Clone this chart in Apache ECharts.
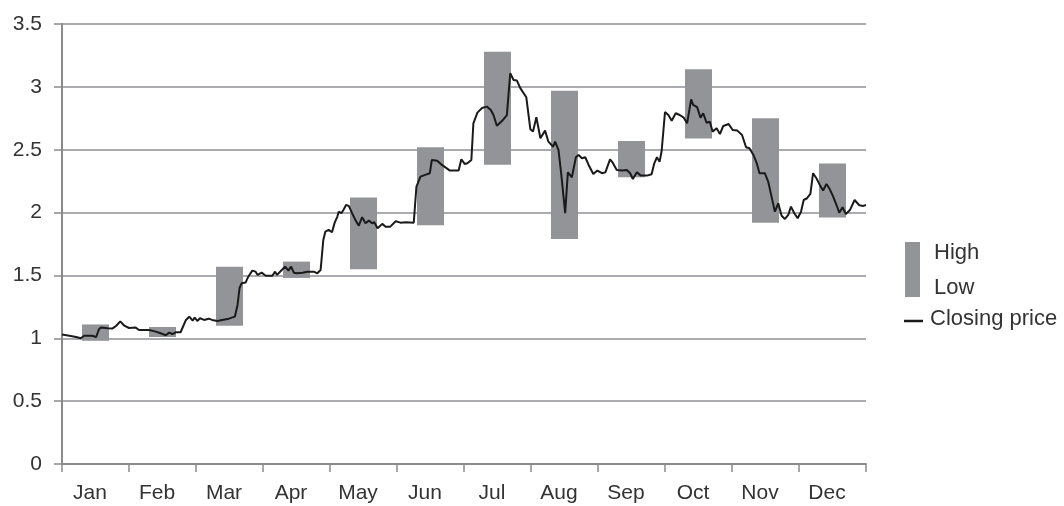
<!DOCTYPE html>
<html>
<head>
<meta charset="utf-8">
<script src="https://cdn.jsdelivr.net/npm/echarts@6/dist/echarts.min.js"></script>
<style>
  html, body { margin: 0; padding: 0; background: #fff; }
  #chart { width: 1064px; height: 506px; }
</style>
</head>
<body>
<div id="chart"></div>
<script>
const months = ["Jan", "Feb", "Mar", "Apr", "May", "Jun", "Jul", "Aug", "Sep", "Oct", "Nov", "Dec"];
const highs = [1.11, 1.09, 1.57, 1.61, 2.12, 2.52, 3.28, 2.97, 2.57, 3.14, 2.75, 2.39];
const lows = [0.98, 1.01, 1.10, 1.48, 1.55, 1.90, 2.38, 1.79, 2.28, 2.59, 1.92, 1.96];
const yTicks = [0, 0.5, 1, 1.5, 2, 2.5, 3, 3.5];

// closing price: [position in months from start of year, price]
const closing = [
  [0.00, 1.03], [0.11, 1.02], [0.21, 1.01], [0.28, 1.00], [0.33, 1.02], [0.45, 1.02],
  [0.51, 1.01], [0.55, 1.07], [0.58, 1.085], [0.68, 1.08], [0.75, 1.077], [0.81, 1.10],
  [0.87, 1.135], [0.93, 1.10], [1.00, 1.082], [1.10, 1.085], [1.15, 1.066], [1.30, 1.066],
  [1.40, 1.053], [1.47, 1.04], [1.55, 1.024], [1.60, 1.045], [1.65, 1.034], [1.70, 1.048],
  [1.77, 1.048], [1.85, 1.146], [1.90, 1.172], [1.95, 1.14], [1.98, 1.164], [2.02, 1.138],
  [2.06, 1.159], [2.12, 1.146], [2.19, 1.156], [2.24, 1.146], [2.32, 1.138], [2.39, 1.146],
  [2.49, 1.156], [2.58, 1.172], [2.62, 1.265], [2.65, 1.40], [2.68, 1.437], [2.74, 1.443],
  [2.78, 1.49], [2.84, 1.538], [2.89, 1.53], [2.92, 1.504], [2.98, 1.522], [3.04, 1.498],
  [3.14, 1.498], [3.18, 1.53], [3.21, 1.504], [3.28, 1.543], [3.33, 1.57], [3.38, 1.538],
  [3.42, 1.57], [3.46, 1.522], [3.51, 1.517], [3.59, 1.522], [3.66, 1.53], [3.76, 1.53],
  [3.81, 1.517], [3.86, 1.543], [3.90, 1.782], [3.93, 1.848], [3.98, 1.862], [4.03, 1.843],
  [4.07, 1.92], [4.11, 1.968], [4.13, 2.007], [4.17, 1.995], [4.20, 2.02], [4.24, 2.06],
  [4.28, 2.053], [4.33, 1.995], [4.38, 1.94], [4.43, 1.896], [4.48, 1.963], [4.53, 1.915],
  [4.58, 1.936], [4.63, 1.915], [4.66, 1.923], [4.71, 1.875], [4.78, 1.91], [4.83, 1.888],
  [4.90, 1.888], [4.98, 1.931], [5.05, 1.92], [5.13, 1.923], [5.25, 1.92], [5.29, 2.206],
  [5.35, 2.286], [5.42, 2.30], [5.49, 2.313], [5.52, 2.418], [5.60, 2.413], [5.67, 2.379],
  [5.79, 2.334], [5.92, 2.334], [5.96, 2.424], [6.01, 2.387], [6.05, 2.392], [6.11, 2.418],
  [6.14, 2.71], [6.20, 2.795], [6.27, 2.832], [6.34, 2.843], [6.40, 2.816], [6.44, 2.776],
  [6.49, 2.69], [6.57, 2.73], [6.64, 2.776], [6.69, 3.108], [6.74, 3.055], [6.79, 3.05],
  [6.84, 2.99], [6.93, 2.917], [6.99, 2.663], [7.03, 2.644], [7.08, 2.758], [7.14, 2.591],
  [7.21, 2.652], [7.26, 2.564], [7.33, 2.524], [7.36, 2.564], [7.41, 2.498], [7.45, 2.313],
  [7.51, 1.995], [7.55, 2.32], [7.61, 2.281], [7.67, 2.44], [7.71, 2.458], [7.76, 2.432],
  [7.81, 2.44], [7.86, 2.379], [7.93, 2.307], [7.99, 2.334], [8.06, 2.313], [8.11, 2.32],
  [8.18, 2.424], [8.22, 2.397], [8.28, 2.339], [8.36, 2.334], [8.43, 2.339], [8.48, 2.313],
  [8.52, 2.267], [8.58, 2.32], [8.64, 2.294], [8.73, 2.294], [8.80, 2.305], [8.84, 2.392],
  [8.88, 2.44], [8.92, 2.405], [8.95, 2.49], [9.00, 2.80], [9.05, 2.776], [9.10, 2.731],
  [9.16, 2.79], [9.22, 2.776], [9.28, 2.755], [9.33, 2.71], [9.39, 2.90], [9.42, 2.856],
  [9.48, 2.838], [9.53, 2.755], [9.57, 2.79], [9.62, 2.715], [9.67, 2.723], [9.71, 2.644],
  [9.77, 2.67], [9.82, 2.625], [9.87, 2.689], [9.95, 2.705], [10.01, 2.657], [10.08, 2.652],
  [10.15, 2.617], [10.21, 2.52], [10.26, 2.512], [10.32, 2.458], [10.37, 2.392], [10.41, 2.313],
  [10.49, 2.313], [10.54, 2.247], [10.59, 2.127], [10.64, 2.007], [10.69, 2.074], [10.74, 1.975],
  [10.79, 1.949], [10.84, 1.981], [10.88, 2.047], [10.93, 1.995], [10.98, 1.955], [11.03, 2.007],
  [11.07, 2.10], [11.12, 2.114], [11.17, 2.148], [11.21, 2.313], [11.26, 2.273], [11.31, 2.22],
  [11.36, 2.175], [11.41, 2.228], [11.46, 2.185], [11.51, 2.127], [11.56, 2.06], [11.60, 1.999],
  [11.65, 2.042], [11.70, 1.989], [11.76, 2.02], [11.83, 2.10], [11.90, 2.058], [11.96, 2.053],
  [12.00, 2.06]
];

const FONT = "'Liberation Sans', Arial, sans-serif";
const TEXT = "#333333";
const AXIS = "#8a8b8d";
const GRIDLINE = "#a9abae";
const BAR = "#929497";

let chart = echarts.init(document.getElementById("chart"));
chart.setOption({
  animation: false,
  backgroundColor: "#ffffff",
  textStyle: { fontFamily: FONT },
  grid: { left: 62, right: 198, top: 24, bottom: 42, containLabel: false },
  xAxis: [
    {
      type: "category",
      data: months,
      boundaryGap: true,
      axisLine: { lineStyle: { color: AXIS, width: 2 } },
      axisTick: { show: true, length: 8, lineStyle: { color: AXIS, width: 1.5 } },
      // labels sit slightly left of the month centre in the original
      axisLabel: { color: TEXT, fontSize: 21, margin: 19, padding: [0, 11, 0, 0], fontFamily: FONT },
      splitLine: { show: false }
    },
    {
      type: "value",
      min: 0,
      max: 12,
      show: false
    }
  ],
  yAxis: {
    type: "value",
    min: yTicks[0],
    max: yTicks[yTicks.length - 1],
    interval: 0.5,
    axisLine: { show: true, lineStyle: { color: AXIS, width: 2 } },
    axisTick: { show: true, length: 8, lineStyle: { color: AXIS, width: 1.5 } },
    axisLabel: { color: TEXT, fontSize: 21, margin: 20, fontFamily: FONT },
    splitLine: { show: true, lineStyle: { color: GRIDLINE, width: 2 } }
  },
  series: [
    {
      name: "base",
      type: "bar",
      stack: "range",
      barWidth: 27,
      xAxisIndex: 0,
      itemStyle: { color: "rgba(0,0,0,0)" },
      data: lows
    },
    {
      name: "High/Low",
      type: "bar",
      stack: "range",
      barWidth: 27,
      xAxisIndex: 0,
      itemStyle: { color: BAR },
      data: highs.map((h, i) => +(h - lows[i]).toFixed(3))
    },
    {
      name: "Closing price",
      type: "line",
      xAxisIndex: 1,
      showSymbol: false,
      symbol: "none",
      lineStyle: { color: "#1a1a1a", width: 2 },
      data: closing,
      z: 5
    }
  ],
  graphic: [
    { type: "rect", left: 905, top: 242, shape: { width: 15, height: 55 }, style: { fill: BAR } },
    { type: "text", left: 934, top: 242, style: { text: "High", fill: TEXT, font: "22px " + FONT } },
    { type: "text", left: 934, top: 277, style: { text: "Low", fill: TEXT, font: "22px " + FONT } },
    { type: "line", shape: { x1: 904, y1: 321, x2: 923, y2: 321 }, style: { stroke: "#1a1a1a", lineWidth: 2.5 } },
    { type: "text", left: 930, top: 308, style: { text: "Closing price", fill: TEXT, font: "22px " + FONT } }
  ]
});
</script>
</body>
</html>
